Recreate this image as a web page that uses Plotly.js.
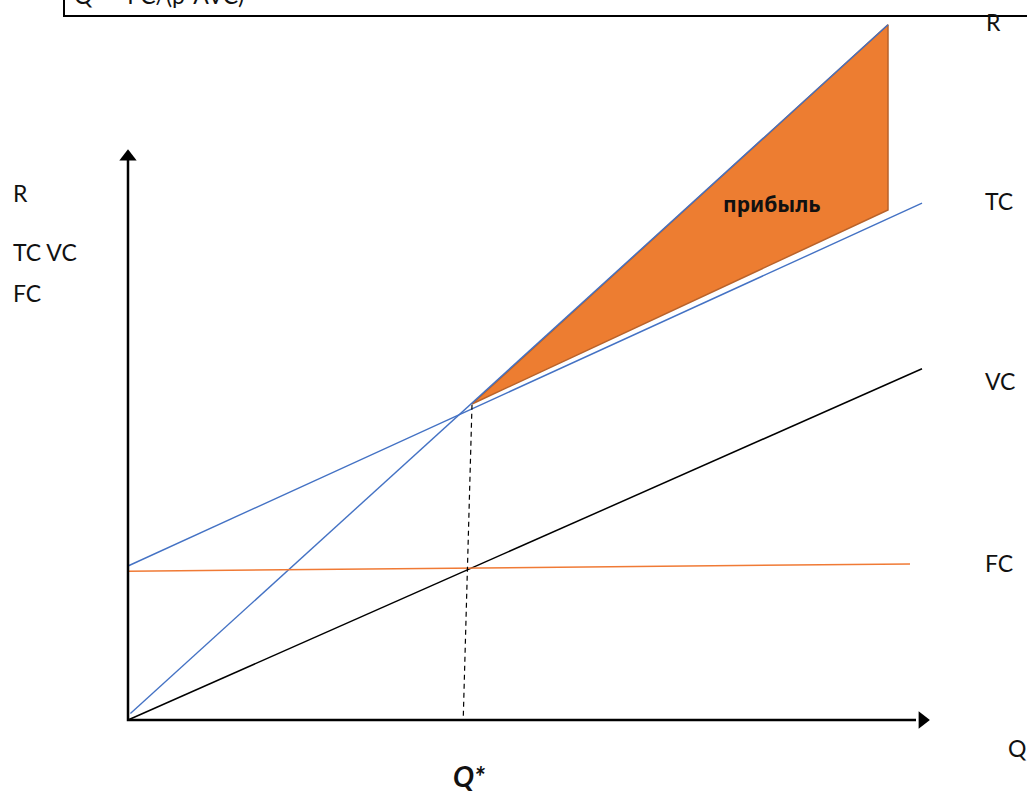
<!DOCTYPE html>
<html>
<head>
<meta charset="utf-8">
<script src="https://cdn.plot.ly/plotly-3.0.1.min.js"></script>
<style>
  html, body { margin: 0; padding: 0; background: #fff; }
  #chart { width: 1027px; height: 792px; }
</style>
</head>
<body>
<div id="chart"></div>
<script>
// break-even chart: Q on x, money on y (arbitrary units)
var rQ = [0.3, 95];
var rVal = [0.8, 86.9];

var tcQ = [0, 99.25];
var tcVal = [19.25, 64.6];

var vcQ = [0, 99.25];
var vcVal = [0, 43.9];

var fcQ = [0, 97.75];
var fcVal = [18.6, 19.5];

// profit area between R and TC after Q*
var profitQ = [43, 95, 95, 43];
var profitVal = [39.5, 86.9, 63.75, 39.5];

// dashed drop line at Q*
var qStarQ = [43, 41.9];
var qStarVal = [39.4, 0];

var axisQ = [0, 0, 98.5];
var axisVal = [70, 0, 0];

var font = "Lato, 'Noto Sans', sans-serif";

var traces = [
  {x: profitQ, y: profitVal, type: "scatter", mode: "lines", fill: "toself",
   fillcolor: "#ED7D31", line: {color: "#B8622A", width: 1.5}, hoverinfo: "skip"},
  {x: rQ, y: rVal, type: "scatter", mode: "lines", line: {color: "#4472C4", width: 1.4}},
  {x: tcQ, y: tcVal, type: "scatter", mode: "lines", line: {color: "#4472C4", width: 1.4}},
  {x: vcQ, y: vcVal, type: "scatter", mode: "lines", line: {color: "#000", width: 1.5}},
  {x: fcQ, y: fcVal, type: "scatter", mode: "lines", line: {color: "#F07A35", width: 1.5}},
  {x: qStarQ, y: qStarVal, type: "scatter", mode: "lines",
   line: {color: "#000", width: 1.2, dash: "5px,4px"}},
  {x: axisQ, y: axisVal, type: "scatter", mode: "lines", line: {color: "#000", width: 2.5}},
  {x: [0, 99.3], y: [70.4, 0], type: "scatter", mode: "markers",
   marker: {symbol: ["triangle-up", "triangle-right"], size: 15, color: "#000"}}
];

// label positions, left edge of each text
var labels = [
  {x: 107.0, y: 87.2, text: "R"},
  {x: 106.9, y: 64.9, text: "TC"},
  {x: 106.9, y: 42.4, text: "VC"},
  {x: 106.9, y: 19.6, text: "FC"},
  {x: 109.8, y: -3.5, text: "Q"},
  {x: -14.6, y: 65.9, text: "R"},
  {x: -14.6, y: 58.5, text: "TC VC"},
  {x: -14.6, y: 53.4, text: "FC"}
];

var annotations = labels.map(function (l) {
  return {x: l.x, y: l.y, xref: "x", yref: "y", xanchor: "left", text: l.text,
          showarrow: false, font: {family: font, size: 23, color: "#111"}};
});

annotations.push({x: 80.5, y: 64.5, xref: "x", yref: "y", text: "<b>прибыль</b>",
  showarrow: false, font: {family: "'Noto Sans', sans-serif", size: 21, color: "#111"}});
annotations.push({x: 42.6, y: -7, xref: "x", yref: "y", text: "<b><i>Q*</i></b>",
  showarrow: false, font: {family: font, size: 28, color: "#111"}});
annotations.push({x: -7, y: 1, xref: "x", yref: "paper", xanchor: "left", yanchor: "middle",
  yshift: 5, text: "Q* = FC/(p-AVC)", showarrow: false,
  font: {family: font, size: 23, color: "#111"}});

var layout = {
  width: 1027,
  height: 792,
  margin: {l: 0, r: 0, t: 0, b: 0},
  showlegend: false,
  paper_bgcolor: "#fff",
  plot_bgcolor: "#fff",
  xaxis: {range: [-16, 112.375], visible: false, fixedrange: true},
  yaxis: {range: [-9, 90], visible: false, fixedrange: true},
  shapes: [
    {type: "rect", xref: "x", yref: "paper", x0: -8, x1: 115, y0: 0.9798, y1: 1.1,
     line: {color: "#000", width: 2}}
  ],
  annotations: annotations
};

Plotly.newPlot("chart", traces, layout, {staticPlot: true});
</script>
</body>
</html>
